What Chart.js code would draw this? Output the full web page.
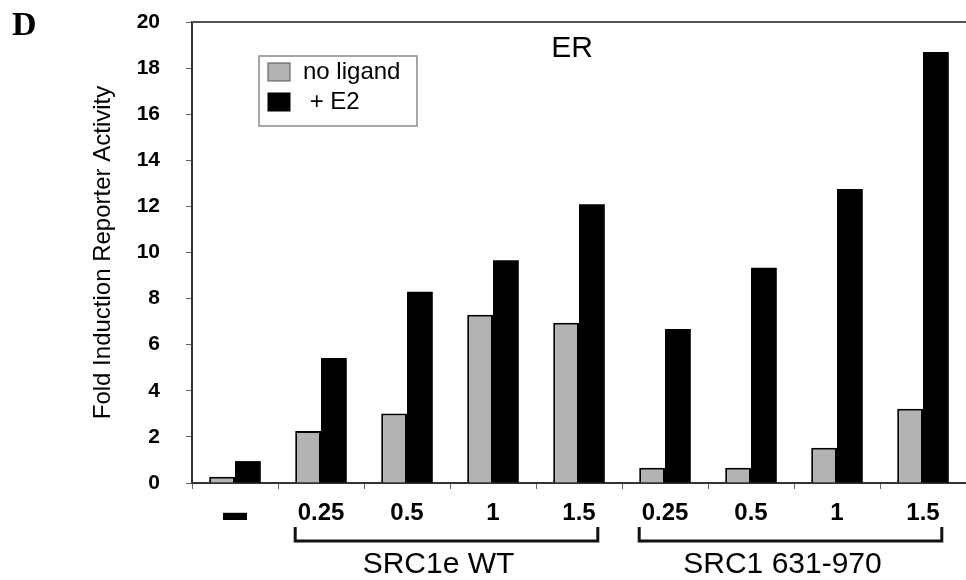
<!DOCTYPE html>
<html>
<head>
<meta charset="utf-8">
<script src="https://cdn.jsdelivr.net/npm/chart.js@4.4.1/dist/chart.umd.min.js"></script>
<style>
  html, body { margin: 0; padding: 0; background: #ffffff; overflow: hidden; }
  #wrap { position: relative; width: 966px; height: 580px; }
</style>
</head>
<body>
<div id="wrap"><canvas id="c" width="966" height="580"></canvas></div>
<script>
// ---- data ----
const categories = ['\u25AC', '0.25', '0.5', '1', '1.5', '0.25', '0.5', '1', '1.5'];
const noLigand   = [0.27, 2.26, 3.02, 7.30, 6.95, 0.66, 0.66, 1.53, 3.22];
const plusE2     = [0.95, 5.42, 8.30, 9.66, 12.09, 6.68, 9.34, 12.75, 18.70];
const seriesNames = ['no ligand', ' + E2'];
const yMin = 0, yMax = 20, yStep = 2;
const groupLabels = ['SRC1e WT', 'SRC1 631-970'];
const groupFirst  = [1, 5];
const groupLast   = [4, 8];
const panelLetter = 'D';
const panelTitle  = 'ER';
const yTitle = 'Fold Induction Reporter Activity';

const SANS = '"Liberation Sans", Arial, Helvetica, sans-serif';
const SERIF = '"Liberation Serif", "Times New Roman", serif';
const GRAY = '#b3b3b3';
const AXIS = '#333333';

const decor = {
  id: 'decor',
  afterDraw(chart) {
    const ctx = chart.ctx;
    const a = chart.chartArea;
    const x = chart.scales.x;
    ctx.save();
    // top frame line
    ctx.strokeStyle = '#555';
    ctx.lineWidth = 2;
    ctx.beginPath();
    ctx.moveTo(a.left, a.top);
    ctx.lineTo(a.right, a.top);
    ctx.stroke();

    // panel letter
    ctx.fillStyle = '#000';
    ctx.font = 'bold 34px ' + SERIF;
    ctx.textAlign = 'left';
    ctx.textBaseline = 'alphabetic';
    ctx.fillText(panelLetter, 12, 35);

    // panel title
    ctx.font = '30px ' + SANS;
    ctx.textAlign = 'center';
    ctx.fillText(panelTitle, 572, 57);

    // legend box
    const lx = a.left + 67, ly = a.top + 34, lw = 158, lh = 70;
    ctx.strokeStyle = '#8a8a8a';
    ctx.lineWidth = 1.5;
    ctx.strokeRect(lx, ly, lw, lh);
    chart.data.datasets.forEach((ds, i) => {
      const sy = ly + 7 + i * 30;
      ctx.fillStyle = ds.backgroundColor;
      ctx.fillRect(lx + 9, sy, 22, 18);
      ctx.strokeStyle = i === 0 ? '#555' : '#000';
      ctx.lineWidth = 1;
      ctx.strokeRect(lx + 9, sy, 22, 18);
      ctx.fillStyle = '#000';
      ctx.font = '24px ' + SANS;
      ctx.textAlign = 'left';
      ctx.textBaseline = 'middle';
      ctx.fillText(ds.label, lx + 44, sy + 9);
    });

    // group brackets under the tick labels
    const half = (x.getPixelForValue(1) - x.getPixelForValue(0)) * 0.3;
    ctx.strokeStyle = '#111';
    ctx.lineWidth = 3;
    ctx.fillStyle = '#000';
    ctx.font = '30px ' + SANS;
    ctx.textAlign = 'center';
    ctx.textBaseline = 'alphabetic';
    for (let g = 0; g < groupLabels.length; g++) {
      const x0 = x.getPixelForValue(groupFirst[g]) - half;
      const x1 = x.getPixelForValue(groupLast[g]) + half - 7;
      ctx.beginPath();
      ctx.moveTo(x0, 527);
      ctx.lineTo(x0, 541);
      ctx.lineTo(x1, 541);
      ctx.lineTo(x1, 527);
      ctx.stroke();
      ctx.fillText(groupLabels[g], (x0 + x1) / 2 - 8, 573);
    }
    ctx.restore();
  }
};

new Chart(document.getElementById('c'), {
  type: 'bar',
  data: {
    labels: categories,
    datasets: [
      { label: seriesNames[0], data: noLigand, backgroundColor: GRAY, borderColor: '#000', borderWidth: 2 },
      { label: seriesNames[1], data: plusE2, backgroundColor: '#000', borderColor: '#000', borderWidth: 0 }
    ]
  },
  options: {
    responsive: false,
    animation: false,
    devicePixelRatio: 1,
    layout: { padding: { top: 22, left: 0, right: 0, bottom: 0 } },
    datasets: { bar: { categoryPercentage: 0.6, barPercentage: 1.0 } },
    plugins: { legend: { display: false }, tooltip: { enabled: false }, title: { display: false } },
    scales: {
      x: {
        afterFit(s) { s.height = 97; },
        grid: { display: true, drawOnChartArea: false, drawTicks: true, tickLength: 6, color: '#666', lineWidth: 1, offset: true },
        border: { display: true, color: AXIS, width: 2 },
        ticks: { color: '#000', font: { family: SANS, size: 24, weight: 'bold' }, padding: 10, maxRotation: 0, autoSkip: false }
      },
      y: {
        min: yMin, max: yMax,
        afterFit(s) { s.width = 192; s.paddingTop = 12; s.paddingBottom = 12; },
        grid: { display: true, drawOnChartArea: false, drawTicks: true, tickLength: 6, color: '#666', lineWidth: 1 },
        border: { display: true, color: AXIS, width: 2 },
        ticks: { stepSize: yStep, color: '#000', font: { family: SANS, size: 21, weight: 'bold' }, padding: 26 },
        title: { display: true, text: yTitle, color: '#000', font: { family: SANS, size: 24 }, padding: { top: 89, bottom: 0 } }
      }
    }
  },
  plugins: [decor]
});
</script>
</body>
</html>
